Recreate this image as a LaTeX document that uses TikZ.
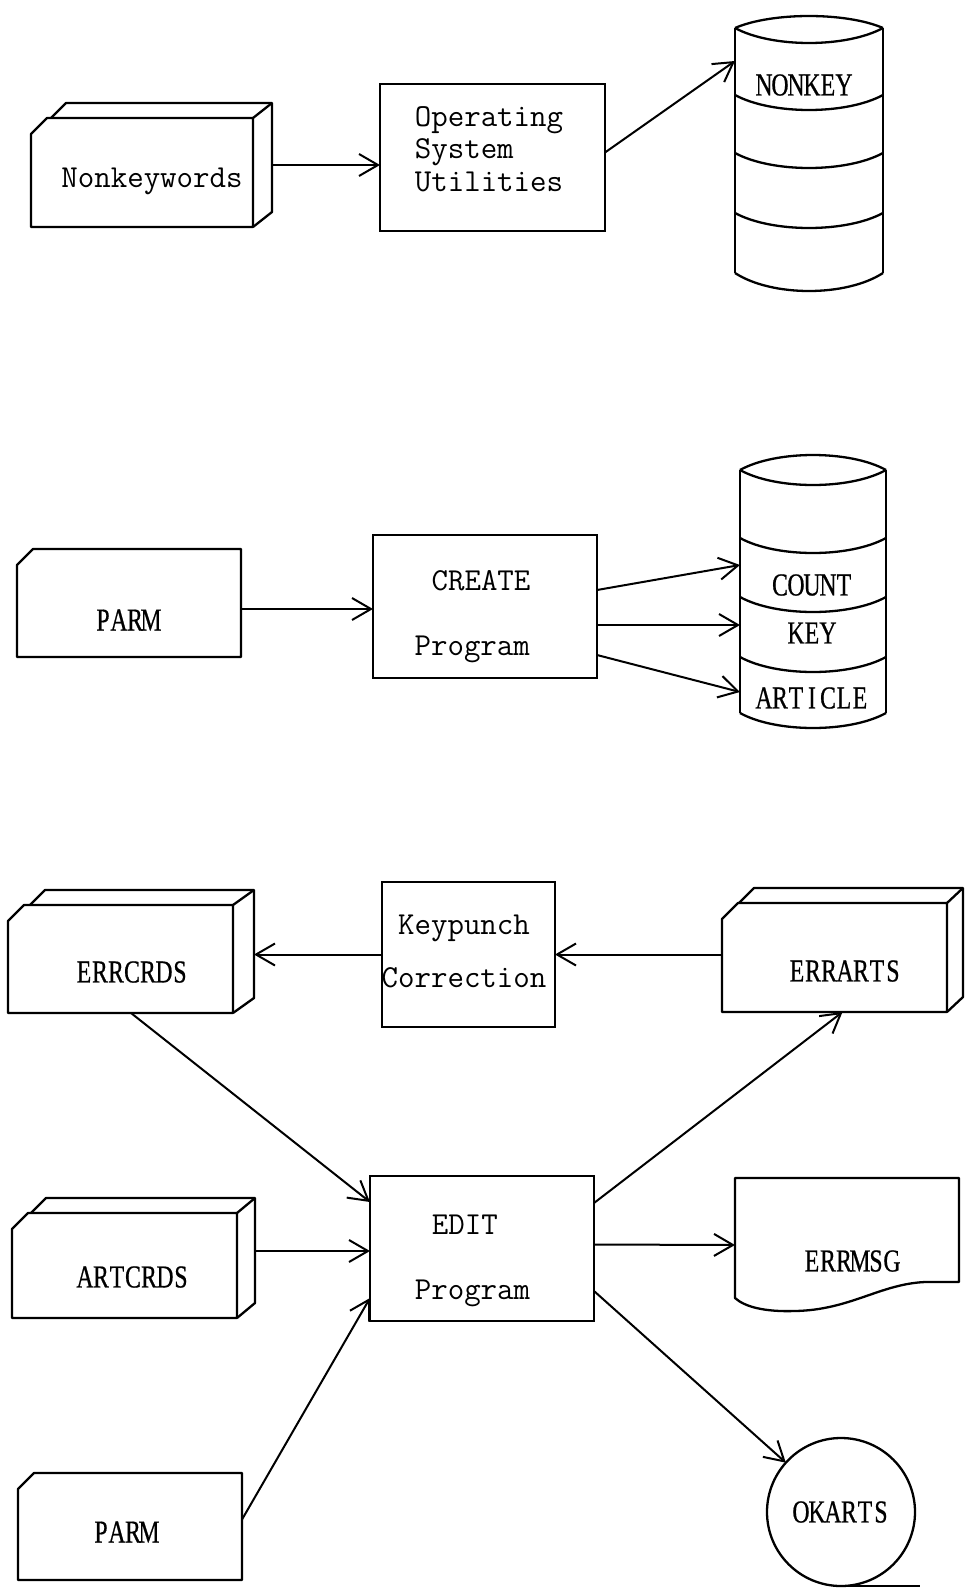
\documentclass[tikz,border=0pt]{standalone}
\usepackage{fontspec}
\newfontfamily\capsfont[FakeStretch=0.74,FakeBold=0.6]{Liberation Serif}
\usetikzlibrary{arrows.meta,calc,fit}

% typewriter face on a 16pt pitch
\newcommand\typeface{\ttfamily\fontsize{32}{32.5}\selectfont\addfontfeature{FakeStretch=0.953,FakeBold=3}}
% set a word letter by letter on a fixed 16pt pitch
\newcommand\pitched[1]{\pitchedloop#1\relax}
\def\pitchedloop#1{\ifx#1\relax\else\makebox[16pt][c]{#1}\expandafter\pitchedloop\fi}

\tikzset{
  outline/.style={line width=2.3pt, line join=round},
  arr/.style={line width=2pt, -{Straight Barb[length=19pt,width=22pt]}},
  area/.style={inner sep=0pt, outer sep=0pt},
  boxed/.style={draw, line width=2.3pt, inner sep=0pt, outer sep=0pt},
  mono/.style={font=\typeface, inner sep=0pt},
  caps/.style={font=\capsfont\fontsize{32}{32}\selectfont, inner sep=0pt},
}

% card deck: front card x1,y1 -- x2,y2, second card offset by (#6,-15) behind it
\newcommand\deckshape[6]{%
  \node[area, fit={(#2,#3-15)(#4+#6,#5)}] (#1) {};
  \draw[outline] (#2,#3+16) -- (#2+16,#3) -- (#4,#3) -- (#4,#5) -- (#2,#5) -- cycle;
  \draw[outline] (#2+#6+1,#3) -- (#2+#6+16,#3-15) -- (#4+#6,#3-15) -- (#4+#6,#5-15) -- (#4,#5);
  \draw[outline] (#4,#3) -- (#4+#6,#3-15);
}
% single punched card with a clipped corner
\newcommand\cardshape[5]{%
  \node[area, fit={(#2,#3)(#4,#5)}] (#1) {};
  \draw[outline] (#2,#3+16) -- (#2+16,#3) -- (#4,#3) -- (#4,#5) -- (#2,#5) -- cycle;
}
% one curved band line across a disk stack
\newcommand\band[3]{% x1, x2, y
  \draw[outline] (#1,#3) .. controls ({#1+0.25*(#2-#1)},#3+20) and ({#2-0.25*(#2-#1)},#3+20) .. (#2,#3);
}

\begin{document}
\begin{tikzpicture}[x=1pt,y=-1pt]
\useasboundingbox (0,0) rectangle (965,1588);
\fill[white] (0,0) rectangle (965,1588);

% ---------------- first run: nonkeywords ----------------
\deckshape{nk}{31}{118}{253}{227}{19}
\node[mono] (nk-text) at (152,181) {Nonkeywords};

\node[boxed, fit={(380,84)(605,231)}] (osu) {};
\node[mono, align=left] (osu-text) at (489,149) {Operating\\System\\Utilities};

% disk stack NONKEY
\node[area, fit={(735,16)(883,291)}] (nonkey) {};
\draw[outline] (735,28) .. controls (772,12) and (846,12) .. (883,28);
\draw[outline] (735,28) .. controls (772,48) and (846,48) .. (883,28);
\draw[outline] (735,28) -- (735,273);
\draw[outline] (883,28) -- (883,273);
\band{735}{883}{95}
\band{735}{883}{153}
\band{735}{883}{213}
\draw[outline] (735,273) .. controls (772,297) and (846,297) .. (883,273);
\node[caps] (nonkey-text) at (804,85) {\pitched{NONKEY}};

\draw[arr] (nk.east) -- (nk.east -| osu.west);
\draw[arr] ($(osu.east)+(0,-5)$) -- ($(nonkey.north west)+(0,45)$);

% ---------------- second run: CREATE ----------------
\cardshape{parm1}{17}{549}{241}{657}
\node[caps] (parm1-text) at (127,620) {\pitched{PARM}};

\node[boxed, fit={(373,535)(597,678)}] (create) {};
\node[mono, align=left, font=\typeface\fontsize{32}{65}\selectfont] (create-text) at (472.5,616.5) {\hspace*{17pt}CREATE\\Program};

% disk stack with three files
\node[area, fit={(740,455)(886,728)}] (db) {};
\draw[outline] (740,470) .. controls (776,450) and (850,450) .. (886,470);
\draw[outline] (740,470) .. controls (776,490) and (850,490) .. (886,470);
\draw[outline] (740,470) -- (740,713);
\draw[outline] (886,470) -- (886,713);
\band{740}{886}{538}
\band{740}{886}{597}
\band{740}{886}{657}
\draw[outline] (740,713) .. controls (776,733) and (850,733) .. (886,713);
\node[caps] (count-text) at (812,585) {\pitched{COUNT}};
\node[caps] (key-text) at (812,633) {\pitched{KEY}};
\node[caps] (article-text) at (812,698) {\pitched{ARTICLE}};

\draw[arr] ($(parm1.east)+(0,6)$) -- ($(create.west)+(0,2.5)$);
\draw[arr] ($(create.east)+(0,-16.5)$) -- ($(db.north west)+(0,110)$);
\draw[arr] ($(create.east)+(0,18.5)$) -- ($(db.north west)+(0,170)$);
\draw[arr] ($(create.east)+(0,48.5)$) -- ($(db.north west)+(0,237)$);

% ---------------- third run: EDIT ----------------
\deckshape{errcrds}{8}{905}{233}{1013}{21}
\node[caps] (errcrds-text) at (132,972) {\pitched{ERRCRDS}};

\node[boxed, fit={(382,882)(555,1027)}] (kp) {};
\node[mono, align=center, font=\typeface\fontsize{32}{53}\selectfont] (kp-text) at (464,951.5) {Keypunch\\Correction};

\deckshape{errarts}{722}{903}{947}{1012}{16}
\node[caps] (errarts-text) at (845,971) {\pitched{ERRARTS}};

\deckshape{artcrds}{12}{1213}{237}{1318}{18}
\node[caps] (artcrds-text) at (133,1277) {\pitched{ARTCRDS}};

\cardshape{parm2}{18}{1473}{242}{1580}
\node[caps] (parm2-text) at (125,1532) {\pitched{PARM}};

\node[boxed, fit={(370,1176)(594,1321)}] (edit) {};
\node[mono, align=left, font=\typeface\fontsize{32}{65}\selectfont] (edit-text) at (472.5,1260.5) {\hspace*{17pt}EDIT\\Program};

% printed report
\node[area, fit={(735,1178)(959,1312)}] (errmsg) {};
\draw[outline] (959,1282) -- (925,1282) .. controls (880,1284) and (850,1310) .. (795,1311)
  .. controls (765,1312) and (745,1307) .. (735,1298) -- (735,1178) -- (959,1178) -- cycle;
\node[caps] (errmsg-text) at (852,1261) {\pitched{ERRMSG}};

% tape reel
\node[circle, draw, line width=2.3pt, minimum size=148pt, inner sep=0pt, outer sep=0pt,
      font=\capsfont\fontsize{32}{32}\selectfont] (okarts) at (841,1512) {\pitched{OKARTS}};
\draw[outline] (okarts.south) -- ++(79,0);

\draw[arr] (kp.west) -- (kp.west -| errcrds.east);
\draw[arr] (kp.east -| errarts.west) -- (kp.east);
\draw[arr] (errcrds.south) -- ($(edit.north west)+(0,26)$);
\draw[arr] ($(artcrds.east)+(0,-7)$) -- ($(edit.west)+(0,2.5)$);
\draw[arr] ($(parm2.east)+(0,-7)$) -- ($(edit.south west)+(0,-23)$);
\draw[arr] ($(edit.north east)+(0,27)$) -- (errarts.south);
\draw[arr] ($(edit.east)+(0,-4)$) -- (errmsg.west);
\draw[arr] ($(edit.south east)+(0,-30)$) -- (okarts);
\end{tikzpicture}
\end{document}
